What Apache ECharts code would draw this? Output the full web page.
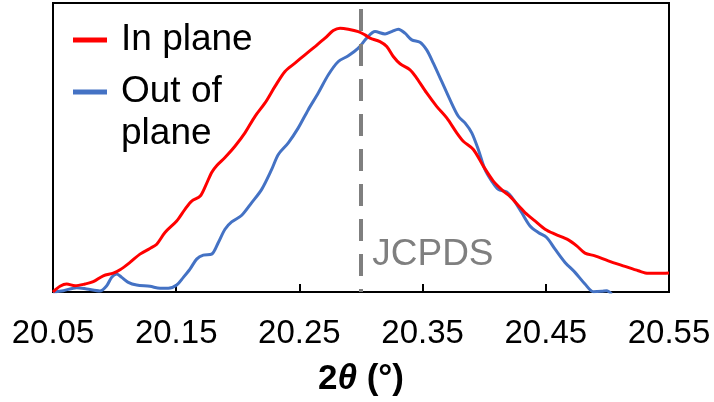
<!DOCTYPE html>
<html>
<head>
<meta charset="utf-8">
<script src="https://cdn.jsdelivr.net/npm/echarts@6/dist/echarts.min.js"></script>
<style>
  html, body { margin: 0; padding: 0; background: #fff; }
  #chart { width: 714px; height: 402px; }
</style>
</head>
<body>
<div id="chart"></div>
<script>
// Diffraction peak profiles, 2θ (degrees) vs. intensity (arbitrary units)
const inPlane = [
  [20.050, 0], [20.0557, 5.7], [20.0611, 8], [20.0679, 6.3], [20.0760, 8],
  [20.0827, 10.3], [20.0908, 16.3], [20.0989, 19], [20.1044, 22.3], [20.1125, 29.7],
  [20.1206, 38], [20.1287, 43.7], [20.1342, 48], [20.1409, 59.7], [20.1504, 71.3],
  [20.1571, 83], [20.1626, 91.3], [20.1693, 96], [20.1740, 107], [20.1788, 120],
  [20.1830, 127], [20.1896, 135], [20.1977, 146.3], [20.2058, 159.7], [20.2140, 176.3],
  [20.2221, 189.7], [20.2302, 206.3], [20.2383, 221.3], [20.2464, 229.7], [20.2545, 238],
  [20.2627, 246.3], [20.2708, 254.7], [20.2775, 262.3], [20.2830, 264.7], [20.2897, 263.7],
  [20.2978, 261.3], [20.3032, 258], [20.3073, 254.7], [20.3154, 251.3], [20.3209, 246.3],
  [20.3262, 236.3], [20.3317, 229], [20.3398, 223], [20.3452, 214.7], [20.3533, 199.7],
  [20.3614, 186.3], [20.3696, 174.7], [20.3777, 159.7], [20.3830, 151.3], [20.3912, 143],
  [20.3993, 126.3], [20.4074, 111.3], [20.4155, 101.3], [20.4209, 96], [20.4291, 85],
  [20.4331, 79.7], [20.4412, 71.3], [20.4494, 63], [20.4575, 58], [20.4683, 52.3],
  [20.4751, 46.3], [20.4818, 39], [20.4899, 36.3], [20.5007, 31.3], [20.5143, 25.7],
  [20.5251, 21.3], [20.5332, 18.7], [20.5413, 18.7], [20.5500, 19]
];

const outOfPlane = [
  [20.050, 0], [20.0584, 1.3], [20.0692, 4.3], [20.0774, 3], [20.0881, 1],
  [20.0936, 6.3], [20.0976, 14.7], [20.1017, 18], [20.1058, 14.7], [20.1111, 9.7],
  [20.1179, 7], [20.1287, 5.7], [20.1369, 3.7], [20.1436, 3.7], [20.1504, 7],
  [20.1558, 14.7], [20.1612, 23], [20.1666, 33], [20.1720, 37], [20.1788, 38],
  [20.1842, 49.7], [20.1896, 63], [20.1950, 70.3], [20.2032, 77], [20.2113, 89.7],
  [20.2194, 103], [20.2275, 123], [20.2329, 138], [20.2410, 149.7], [20.2491, 164.7],
  [20.2572, 183], [20.2653, 199.7], [20.2735, 218], [20.2816, 231.3], [20.2897, 237],
  [20.2978, 244.7], [20.3046, 254.7], [20.3114, 261.3], [20.3195, 259], [20.3249, 261.3],
  [20.3303, 263.7], [20.3357, 259.7], [20.3412, 253], [20.3479, 250.7], [20.3533, 243],
  [20.3587, 229.7], [20.3655, 211.3], [20.3722, 193], [20.3790, 176.3], [20.3844, 169.7],
  [20.3899, 159.7], [20.3952, 143], [20.4006, 123], [20.4061, 111.3], [20.4114, 103],
  [20.4183, 100.3], [20.4236, 93], [20.4304, 79.7], [20.4372, 66.3], [20.4439, 59.7],
  [20.4507, 54.7], [20.4575, 43], [20.4656, 29.7], [20.4737, 19.7], [20.4818, 8],
  [20.4886, 0.3], [20.4954, 0.7], [20.4994, 1.3], [20.5035, -2]
];

const seriesNames = ['In plane', 'Out of\nplane'];
const jcpdsPosition = 20.301;     // reference peak position
const jcpdsLabelHeight = 37;      // intensity level where the reference label sits
const xTicks = { min: 20.05, max: 20.55, step: 0.1 };

const FONT = '"Liberation Sans", Arial, Helvetica, sans-serif';

const chart = echarts.init(document.getElementById('chart'), null, { renderer: 'canvas' });

chart.setOption({
  animation: false,
  backgroundColor: '#ffffff',
  grid: {
    left: 53, right: 45, top: 3, bottom: 109,
    show: true, borderColor: '#000', borderWidth: 2, backgroundColor: 'transparent'
  },
  legend: [
    {
      data: [{ name: seriesNames[0] }],
      left: 73, top: 18, padding: 0,
      icon: 'rect', itemWidth: 34, itemHeight: 5,
      textStyle: { fontFamily: FONT, fontSize: 37, color: '#000', lineHeight: 44, padding: [0, 0, 0, 9] }
    },
    {
      // leading blank line keeps the key swatch level with the first text line
      data: [{ name: seriesNames[1] }],
      formatter: name => '\n' + name,
      left: 73, top: 29, padding: 0,
      icon: 'rect', itemWidth: 34, itemHeight: 5,
      textStyle: { fontFamily: FONT, fontSize: 37, color: '#000', lineHeight: 42, padding: [0, 0, 0, 9] }
    }
  ],
  xAxis: {
    type: 'value',
    min: xTicks.min, max: xTicks.max, interval: xTicks.step,
    name: '{b|2}{t|θ}{b| (°)}',
    nameLocation: 'middle', nameGap: 70,
    nameTextStyle: {
      rich: {
        b: { fontFamily: FONT, fontSize: 35, fontWeight: 'bold', color: '#000' },
        t: { fontFamily: FONT, fontSize: 35, fontWeight: 'bold', fontStyle: 'italic', color: '#000' }
      }
    },
    axisLine: { show: true, lineStyle: { color: '#000', width: 2 } },
    axisTick: { show: true, inside: true, length: 8, lineStyle: { color: '#000', width: 2 } },
    axisLabel: {
      margin: 25, fontFamily: FONT, fontSize: 33, color: '#000',
      formatter: v => v.toFixed(2)
    },
    splitLine: { show: false }
  },
  yAxis: {
    type: 'value', min: 0, max: 290,
    axisLine: { show: false }, axisTick: { show: false },
    axisLabel: { show: false }, splitLine: { show: false }
  },
  series: [
    {
      name: seriesNames[0], type: 'line', data: inPlane,
      smooth: 0.3, showSymbol: false, symbol: 'none',
      lineStyle: { color: '#ff0000', width: 3 }, itemStyle: { color: '#ff0000' },
      z: 3,
      markLine: {
        silent: true, symbol: ['none', 'none'],
        label: { show: false },
        lineStyle: { color: '#7f7f7f', width: 4, type: [22, 13], dashOffset: 19 },
        data: [{ xAxis: jcpdsPosition }]
      },
      markPoint: {
        silent: true, symbol: 'circle', symbolSize: 0,
        label: {
          show: true, position: 'right', distance: 10,
          formatter: 'JCPDS', fontFamily: FONT, fontSize: 37, color: '#7f7f7f'
        },
        data: [{ coord: [jcpdsPosition, jcpdsLabelHeight] }]
      }
    },
    {
      name: seriesNames[1], type: 'line', data: outOfPlane,
      smooth: 0.3, showSymbol: false, symbol: 'none',
      lineStyle: { color: '#4472c4', width: 3 }, itemStyle: { color: '#4472c4' },
      z: 2
    }
  ]
});
</script>
</body>
</html>
